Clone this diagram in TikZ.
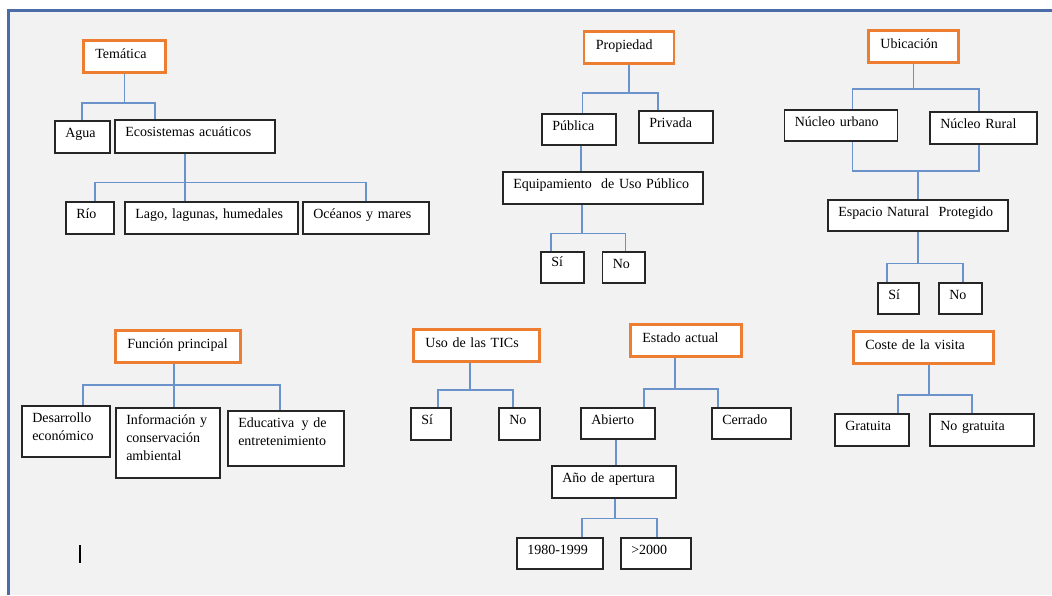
\documentclass[tikz,border=0pt]{standalone}
\usepackage{fontspec}
\setmainfont{Liberation Serif}
\usepackage{xcolor}
\usetikzlibrary{calc}

\definecolor{headorange}{HTML}{ED7D31}
\definecolor{linkblue}{HTML}{6A93CB}
\definecolor{framblue}{HTML}{4A6DA7}
\definecolor{paper}{HTML}{F2F2F2}

\begin{document}
\begin{tikzpicture}[
    x=1pt, y=-1pt,
    every node/.style={font=\fontsize{14}{17.8}\selectfont},
    head/.style={
        rectangle,
        draw=headorange,
        line width=2.8pt,
        fill=white,
        anchor=north west,
        align=left,
        inner xsep=12pt,
        inner ysep=0pt,
        text height=18.5pt,
        text depth=13.5pt
    },
    leaf/.style={
        rectangle,
        draw=black!85,
        line width=1.5pt,
        fill=white,
        anchor=north west,
        align=left,
        inner xsep=10.5pt,
        inner ysep=0pt,
        text height=17pt,
        text depth=15pt
    },
    link/.style={draw=linkblue, line width=1.7pt}
]

    \useasboundingbox (0,0) rectangle (1052,595);
    \fill[paper] (8,10) rectangle (1052,595);
    \draw[framblue, line width=3pt] (8,595) -- (8,10) -- (1052,10);

    % =========================================================
    % TEMATICA
    % =========================================================
    \node [head, text width=58pt] (tematica) at (82,39) {Temática};
    \node [leaf, text width=34pt] (agua) at (54,120) {Agua};
    \node [leaf, text width=139pt, text depth=16pt] (ecos) at (114,119) {Ecosistemas acuáticos};
    \node [leaf, text width=27pt] (rio) at (65,201) {Río};
    \node [leaf, text width=152pt] (lago) at (124,201) {Lago, lagunas, humedales};
    \node [leaf, text width=105pt] (oceanos) at (302,201) {Océanos y mares};

    % =========================================================
    % PROPIEDAD
    % =========================================================
    \node [head, text width=66pt] (propiedad) at (582.5,30) {Propiedad};
    \node [leaf, text width=53pt, text depth=14pt] (publica) at (541,113) {Pública};
    \node [leaf, text width=53pt] (privada) at (638,110) {Privada};
    \node [leaf, text width=179pt] (equip) at (502,171) {Equipamiento\ \ de Uso Público};
    \node [leaf, text width=22pt, text depth=16pt, text height=15pt] (siProp) at (540,251) {Sí};
    \node [leaf, text width=21.5pt, text depth=14pt] (noProp) at (601.5,251) {No};

    % =========================================================
    % UBICACION
    % =========================================================
    \node [head, text width=66pt] (ubicacion) at (867,29) {Ubicación};
    \node [leaf, text width=92pt, text depth=14pt] (urbano) at (783.5,109) {Núcleo urbano};
    \node [leaf, text width=86pt] (rural) at (929,111) {Núcleo Rural};
    \node [leaf, text width=159pt, text depth=14pt] (espacio) at (827,199) {Espacio Natural\ \ Protegido};
    \node [leaf, text width=20pt, text depth=14pt] (siUbic) at (877,282) {Sí};
    \node [leaf, text width=22pt, text depth=14pt] (noUbic) at (938,282) {No};

    % =========================================================
    % FUNCION PRINCIPAL
    % =========================================================
    \node [head, text width=101pt] (funcion) at (114,329) {Función principal};
    \node [leaf, text width=67pt, text depth=34pt] (desarrollo) at (21,405) {Desarrollo\\económico};
    \node [leaf, text width=83pt, text depth=53pt] (informacion) at (115,407) {Información y\\conservación\\ambiental};
    \node [leaf, text width=95pt, text depth=38pt] (educativa) at (227,410) {Educativa\hspace{0.2em} y de\\entretenimiento};

    % =========================================================
    % USO DE LAS TICS
    % =========================================================
    \node [head, text width=102pt] (tics) at (412,328) {Uso de las TICs};
    \node [leaf, text width=19pt] (siTics) at (410,407) {Sí};
    \node [leaf, text width=20pt] (noTics) at (498,407) {No};

    % =========================================================
    % ESTADO ACTUAL
    % =========================================================
    \node [head, text width=87pt] (estado) at (629,323) {Estado actual};
    \node [leaf, text width=53pt, text depth=14pt] (abierto) at (580,407) {Abierto};
    \node [leaf, text width=58pt, text depth=14pt] (cerrado) at (711,407) {Cerrado};
    \node [leaf, text width=103pt] (apertura) at (551,465) {Año de apertura};
    \node [leaf, text width=65pt, text depth=14pt] (d1980) at (516,537) {1980-1999};
    \node [leaf, text width=49pt, text depth=14pt] (d2000) at (620,537) {>2000};

    % =========================================================
    % COSTE DE LA VISITA
    % =========================================================
    \node [head, text width=116pt] (coste) at (852,330) {Coste de la visita};
    \node [leaf, text width=53pt] (gratuita) at (834,413) {Gratuita};
    \node [leaf, text width=83pt] (noGratuita) at (929,413) {No gratuita};

    % =========================================================
    % ORTHOGONAL TREE CONNECTORS
    % =========================================================
    \coordinate (temJ) at ([yshift=-29pt]tematica.south);
    \draw [link] (tematica.south) -- (temJ);
    \draw [link] (agua.north) |- (temJ) -| ([xshift=41pt]ecos.north west);

    \coordinate (ecoJ) at ([xshift=71pt,yshift=-29pt]ecos.south west);
    \draw [link] ([xshift=71pt]ecos.south west) -- (ecoJ);
    \draw [link] ([xshift=30pt]rio.north west) |- (ecoJ) -| (oceanos.north);
    \draw [link] (ecoJ) -- (ecoJ |- lago.north);

    \coordinate (propJ) at ([yshift=-28pt]propiedad.south);
    \draw [link] (propiedad.south) -- (propJ);
    \draw [link] ([xshift=41.5pt]publica.north west) |- (propJ) -| ([xshift=20pt]privada.north west);
    \draw [link] ([xshift=40pt]publica.south west) -- ([xshift=40pt]publica.south west |- equip.north);

    \coordinate (equJ) at ([xshift=80pt,yshift=-29pt]equip.south west);
    \draw [link] ([xshift=80pt]equip.south west) -- (equJ);
    \draw [link] ([xshift=11pt]siProp.north west) |- (equJ) -| ([xshift=24pt]noProp.north west);

    \coordinate (ubiJ) at ([yshift=-25pt]ubicacion.south);
    \draw [link] (ubicacion.south) -- (ubiJ);
    \draw [link] ([xshift=69pt]urbano.north west) |- (ubiJ) -| ([xshift=50pt]rural.north west);

    \coordinate (nucJ) at ([yshift=28pt]espacio.north);
    \draw [link] ([xshift=69pt]urbano.south west) |- (nucJ) -| ([xshift=50pt]rural.south west);
    \draw [link] (nucJ) -- (espacio.north);

    \coordinate (espJ) at ([yshift=-32pt]espacio.south);
    \draw [link] (espacio.south) -- (espJ);
    \draw [link] ([xshift=10pt]siUbic.north west) |- (espJ) -| ([xshift=25pt]noUbic.north west);

    \coordinate (funJ) at ([xshift=59pt,yshift=22pt]informacion.north west);
    \draw [link] ([xshift=60pt]funcion.south west) -- ([xshift=59pt]informacion.north west);
    \draw [link] ([xshift=62pt]desarrollo.north west) |- (funJ) -| ([xshift=53pt]educativa.north west);

    \coordinate (ticJ) at ([xshift=58pt,yshift=-27pt]tics.south west);
    \draw [link] ([xshift=58pt]tics.south west) -- (ticJ);
    \draw [link] ([xshift=28pt]siTics.north west) |- (ticJ) -| ([xshift=15pt]noTics.north west);

    \coordinate (estJ) at ([xshift=46pt,yshift=-31pt]estado.south west);
    \draw [link] ([xshift=46pt]estado.south west) -- (estJ);
    \draw [link] ([xshift=64pt]abierto.north west) |- (estJ) -| ([xshift=7pt]cerrado.north west);
    \draw [link] ([xshift=36pt]abierto.south west) -- ([xshift=36pt]abierto.south west |- apertura.north);

    \coordinate (aperJ) at ([xshift=64pt,yshift=-20pt]apertura.south west);
    \draw [link] ([xshift=64pt]apertura.south west) -- (aperJ);
    \draw [link] ([xshift=66pt]d1980.north west) |- (aperJ) -| ([xshift=37pt]d2000.north west);

    \coordinate (cosJ) at ([xshift=77pt,yshift=-30pt]coste.south west);
    \draw [link] ([xshift=77pt]coste.south west) -- (cosJ);
    \draw [link] ([xshift=64pt]gratuita.north west) |- (cosJ) -| ([xshift=43pt]noGratuita.north west);

    % stray text cursor mark
    \draw [black, line width=1.6pt] (80,545) -- (80,563);

\end{tikzpicture}
\end{document}
